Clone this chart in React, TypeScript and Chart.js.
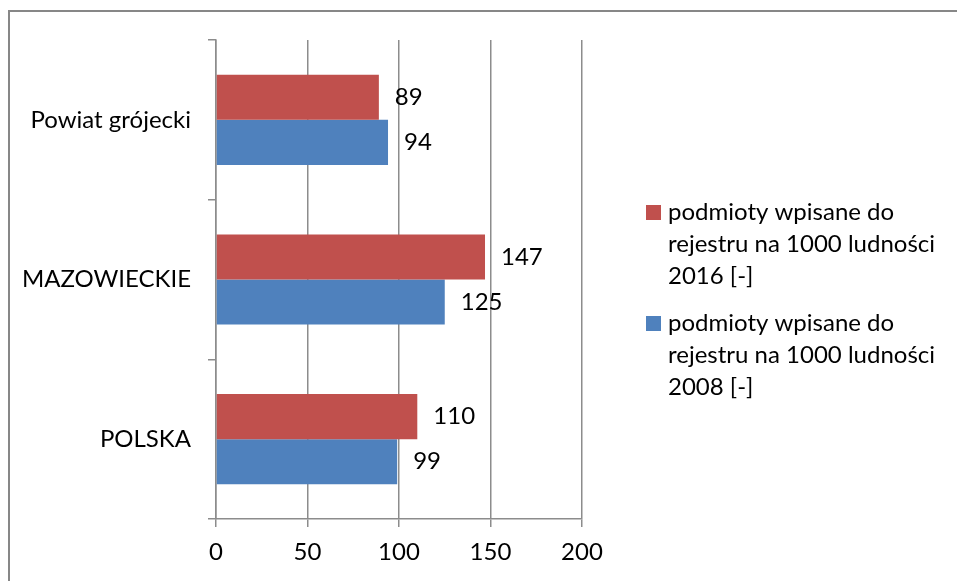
import React, { useEffect, useRef } from "react";
import { Chart, registerables } from "chart.js";

Chart.register(...registerables);

const categories = ["Powiat grójecki", "MAZOWIECKIE", "POLSKA"];
const values2016 = [89, 147, 110];
const values2008 = [94, 125, 99];
const legend2016 = ["podmioty wpisane do", "rejestru na 1000 ludności", "2016 [-]"];
const legend2008 = ["podmioty wpisane do", "rejestru na 1000 ludności", "2008 [-]"];
const xTicks = [0, 50, 100, 150, 200];

const FONT = "Lato";
const FS = 24;
const RED = "#C0504D";
const BLUE = "#4F81BD";
const GRID = "#8C8C8C";

const borderPlugin = {
  id: "outerBorder",
  beforeDraw(chart: any) {
    const ctx = chart.ctx;
    ctx.save();
    ctx.fillStyle = "#ffffff";
    ctx.fillRect(0, 0, chart.width, chart.height);
    ctx.strokeStyle = "#878787";
    ctx.lineWidth = 2;
    ctx.strokeRect(9, 11, chart.width + 20, chart.height + 20);
    ctx.restore();
  },
};

const labelPlugin = {
  id: "valueLabels",
  afterDatasetsDraw(chart: any) {
    const ctx = chart.ctx;
    ctx.save();
    ctx.font = `${FS}px ${FONT}`;
    ctx.fillStyle = "#000";
    ctx.textAlign = "left";
    ctx.textBaseline = "middle";
    chart.data.datasets.forEach((ds: any, di: number) => {
      const meta = chart.getDatasetMeta(di);
      meta.data.forEach((el: any, i: number) => {
        ctx.fillText(String(ds.data[i]), el.x + 16, el.y);
      });
    });
    ctx.restore();
  },
};

const legendPlugin = {
  id: "customLegend",
  afterDraw(chart: any) {
    const ctx = chart.ctx;
    ctx.save();
    ctx.font = `${FS}px ${FONT}`;
    ctx.fillStyle = "#000";
    ctx.textAlign = "left";
    ctx.textBaseline = "middle";
    const items = [
      { color: RED, lines: legend2016, y: 212 },
      { color: BLUE, lines: legend2008, y: 323 },
    ];
    items.forEach((it) => {
      ctx.fillStyle = it.color;
      ctx.fillRect(646, it.y - 7, 15, 15);
      ctx.fillStyle = "#000";
      it.lines.forEach((ln, k) => {
        ctx.fillText(ln, 668, it.y + k * 32);
      });
    });
    ctx.restore();
  },
};

export default function App() {
  const ref = useRef<HTMLCanvasElement>(null);
  useEffect(() => {
    if (!ref.current) return;
    const chart = new Chart(ref.current, {
      type: "bar",
      data: {
        labels: categories,
        datasets: [
          { label: legend2016.join(" "), data: values2016, backgroundColor: RED, categoryPercentage: 0.565, barPercentage: 1 },
          { label: legend2008.join(" "), data: values2008, backgroundColor: BLUE, categoryPercentage: 0.565, barPercentage: 1 },
        ],
      },
      options: {
        indexAxis: "y",
        animation: false,
        responsive: false,
        layout: { padding: { left: 0, top: 40, right: 375, bottom: 0 } },
        plugins: { legend: { display: false }, tooltip: { enabled: false } },
        scales: {
          x: {
            min: 0,
            max: 200,
            afterBuildTicks: (axis: any) => {
              axis.ticks = xTicks.map((v) => ({ value: v }));
            },
            afterFit: (axis: any) => {
              axis.height = 62;
            },
            grid: { color: GRID, lineWidth: 1.5, tickLength: 8, drawTicks: true },
            border: { color: GRID, width: 1.5 },
            ticks: { color: "#000", font: { family: FONT, size: FS }, padding: 11 },
          },
          y: {
            afterFit: (axis: any) => {
              axis.width = 216;
            },
            grid: { drawOnChartArea: false, color: GRID, lineWidth: 1.5, tickLength: 8, offset: true },
            border: { color: GRID, width: 1.5 },
            ticks: { color: "#000", font: { family: FONT, size: FS }, padding: 17 },
          },
        },
      },
      plugins: [borderPlugin, labelPlugin, legendPlugin],
    });
    return () => chart.destroy();
  }, []);
  return (
    <div style={{ position: "absolute", left: 0, top: 0, width: 957, height: 581 }}>
      <canvas ref={ref} width={957} height={581} style={{ width: 957, height: 581, display: "block" }} />
    </div>
  );
}
